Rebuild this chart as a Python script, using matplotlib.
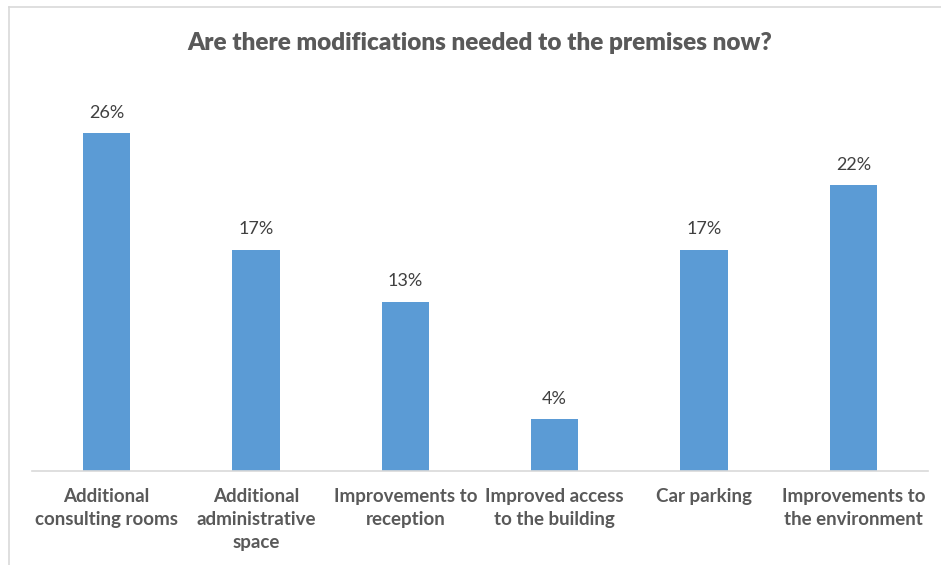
import matplotlib
matplotlib.use('Agg')
import matplotlib.pyplot as plt
from matplotlib.lines import Line2D

categories = ['Additional\nconsulting rooms', 'Additional\nadministrative\nspace',
              'Improvements to\nreception', 'Improved access\nto the building',
              'Car parking', 'Improvements to\nthe environment']
percent = [26, 17, 13, 4, 17, 22]

W, H = 941, 565
fig = plt.figure(figsize=(W / 100, H / 100), dpi=100)
plt.rcParams['font.family'] = ['Lato', 'DejaVu Sans']
grey = '#595959'

# plot area: baseline at y=471 px, 13 px per percent
ax = fig.add_axes([32 / W, (H - 471) / H, (928 - 32) / W, 390 / H])
x = range(len(categories))
ax.bar(x, percent, width=0.315, color='#5B9BD5')
ax.set_xlim(-0.5, len(categories) - 0.5)
ax.set_ylim(0, 30)

for xi, v in zip(x, percent):
    ax.annotate('%d%%' % v, (xi, v), xytext=(0, 9), textcoords='offset points',
                ha='center', va='bottom', fontsize=13, color='#404040')

ax.set_xticks(list(x))
ax.set_xticklabels(categories, fontsize=13.5, color=grey, fontweight='bold',
                   linespacing=1.45, va='top')
ax.tick_params(axis='x', length=0, pad=12)
ax.set_yticks([])
for s in ['top', 'right', 'left']:
    ax.spines[s].set_visible(False)
ax.spines['bottom'].set_color('#D9D9D9')
ax.spines['bottom'].set_linewidth(1.2)

fig.text(480 / W, 1 - 43 / H, 'Are there modifications needed to the premises now?',
         ha='center', va='center', fontsize=17.5, fontweight='heavy', color=grey)

# outer chart frame (top and left edges visible)
fig.add_artist(Line2D([9 / W, 1], [1 - 7 / H, 1 - 7 / H], color='#D9D9D9', lw=1.2))
fig.add_artist(Line2D([9 / W, 9 / W], [0, 1 - 7 / H], color='#D9D9D9', lw=1.2))

fig.savefig('out.png', dpi=100)
